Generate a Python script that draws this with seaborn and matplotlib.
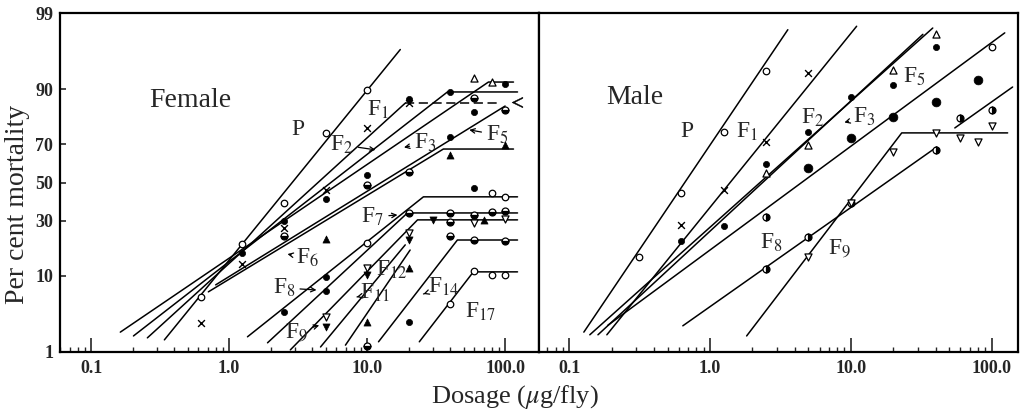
import numpy as np
import matplotlib
matplotlib.use("Agg")
import matplotlib.pyplot as plt
import seaborn as sns
from statistics import NormalDist
from matplotlib.ticker import LogLocator, NullFormatter, NullLocator

# ---- values: dosage (ug/fly) vs per cent mortality ----
x_ticks = [0.1, 1.0, 10.0, 100.0]
x_tick_labels = ["0.1", "1.0", "10.0", "100.0"]
y_ticks = [1, 10, 30, 50, 70, 90, 99]
y_tick_labels = ["1", "10", "30", "50", "70", "90", "99"]

# fitted regression lines (some end in a plateau), female
female_line_dose = {
    "P": [0.34, 17.4],
    "F1": [0.256, 18.9],
    "F1_plateau": [18.9, 89],
    "F2": [0.203, 38.2, 123],
    "F3": [0.163, 75.7, 115],
    "F5": [0.80, 100],
    "F6": [0.708, 35.7, 115],
    "F7": [1.90, 19.6, 123],
    "F8": [1.36, 25.6, 123],
    "F9": [2.78, 23.2, 123],
    "F11": [4.6, 18.9],
    "F12": [6.97, 20.5],
    "F14": [12.1, 45.1, 123],
    "F17": [23.9, 58.9, 123],
}
female_line_pct = {
    "P": [1.54, 96.6],
    "F1": [1.65, 86.2],
    "F1_plateau": [86.2, 86.2],
    "F2": [1.76, 89.3, 89.3],
    "F3": [2.0, 91.6, 91.6],
    "F5": [8.0, 85.3],
    "F6": [6.67, 67.7, 67.7],
    "F7": [1.39, 33.8, 33.8],
    "F8": [1.71, 42.2, 42.2],
    "F9": [1.08, 30.4, 30.4],
    "F11": [1.2, 19.6],
    "F12": [1.28, 17.7],
    "F14": [1.44, 21.5, 21.5],
    "F17": [1.44, 11.0, 11.0],
}

# observed points, female (grouped by symbol)
female_pt_dose = {
    "open_o": [0.625, 1.25, 2.5, 5, 10, 10, 80, 100, 40, 60, 80, 100],
    "x": [0.625, 1.25, 2.5, 5, 10, 20],
    "dot": [1.25, 2.5, 5, 10, 40, 100, 20, 40, 60, 2.5, 5, 60, 5, 20],
    "half": [60, 10, 20, 2.5, 100, 20, 40, 60, 80, 100, 40, 40, 60, 100, 10],
    "open_up": [60, 80],
    "tri_up": [5, 40, 100, 70, 10, 20],
    "open_down": [5, 10, 60, 100, 20],
    "tri_down": [5, 30, 20, 10],
    "chevron": [122],
}
female_pt_pct = {
    "open_o": [5.8, 20.0, 39.0, 75.2, 89.8, 20.4, 44.3, 42.2, 4.8, 11.3, 10.2, 10.2],
    "x": [2.7, 13.2, 26.7, 45.9, 77.3, 86.2],
    "dot": [16.7, 29.9, 41.1, 54.1, 89.3, 91.2, 87.4, 73.4, 83.3, 3.8, 9.8, 47.0, 6.85, 2.8],
    "half": [87.7, 48.7, 55.8, 23.2, 84.0, 33.8, 33.8, 32.8, 34.3, 34.8, 29.4, 23.2, 21.5, 21.1, 1.25],
    "open_up": [92.4, 91.6],
    "tri_up": [21.9, 64.7, 69.7, 30.4, 2.8, 12.1],
    "open_down": [3.2, 12.1, 28.9, 30.9, 24.4],
    "tri_down": [2.4, 30.4, 21.5, 10.2],
    "chevron": [86.5],
}

# fitted lines, male
male_line_dose = {
    "P": [0.127, 3.57],
    "F1": [0.185, 11.0],
    "F2": [0.140, 38.2],
    "F5": [0.160, 32.5],
    "F3": [0.188, 124],
    "F8": [0.641, 40.8],
    "F8_upper": [54.8, 141],
    "F9": [1.82, 23.0, 130],
}
male_line_pct = {
    "P": [2.0, 98.2],
    "F1": [1.83, 98.4],
    "F2": [1.83, 98.3],
    "F5": [1.83, 97.9],
    "F3": [2.5, 98.0],
    "F8": [2.46, 68.7],
    "F8_upper": [77.3, 90.5],
    "F9": [1.76, 75.2, 75.2],
}

# observed points, male
male_pt_dose = {
    "open_o": [0.3125, 0.625, 1.25, 2.5, 100],
    "x": [0.625, 1.25, 2.5, 5],
    "open_up": [2.5, 5, 20, 40],
    "dot": [0.625, 1.25, 2.5, 5, 10, 20, 40],
    "big_dot": [5, 10, 20, 40, 80],
    "half": [2.5, 5, 10, 40, 60, 100, 2.5],
    "open_down": [5, 10, 20, 40, 60, 80, 100],
}
male_pt_pct = {
    "open_o": [15.4, 44.3, 75.6, 93.7, 96.9],
    "x": [28.0, 45.9, 71.1, 93.4],
    "open_up": [55.2, 69.7, 93.9, 97.9],
    "dot": [21.1, 27.6, 60.1, 75.6, 88.0, 90.9, 96.9],
    "big_dot": [57.9, 72.9, 81.6, 86.5, 92.0],
    "half": [11.8, 22.8, 39.0, 67.3, 81.2, 84.0, 31.8],
    "open_down": [15.4, 39.0, 66.2, 75.2, 72.9, 71.1, 78.1],
}

# generation labels: (text, dose, pct, arrow target or None)
female_labels = [
    ("P", 3.13, 76.5, None),
    ("F$_1$", 12.1, 84.0, None),
    ("F$_2$", 6.6, 69.7, (11.5, 67.3)),
    ("F$_3$", 26.5, 70.6, (18.5, 68.5)),
    ("F$_5$", 88, 74.3, (55, 76.5)),
    ("F$_6$", 3.7, 15.0, (2.65, 16.3)),
    ("F$_7$", 11.0, 31.8, (16.6, 32.8)),
    ("F$_8$", 2.5, 7.4, (4.3, 7.0)),
    ("F$_9$", 3.1, 2.0, (4.5, 2.5)),
    ("F$_{11}$", 11.5, 6.5, (8.4, 5.8)),
    ("F$_{12}$", 15.0, 11.5, None),
    ("F$_{14}$", 36.0, 7.6, (25.6, 6.3)),
    ("F$_{17}$", 66.0, 3.8, None),
]
male_labels = [
    ("P", 0.685, 75.6, None),
    ("F$_1$", 1.83, 75.6, None),
    ("F$_2$", 5.38, 81.2, None),
    ("F$_3$", 12.5, 81.6, (9.0, 79.5)),
    ("F$_5$", 28.5, 92.6, None),
    ("F$_8$", 2.75, 20.4, None),
    ("F$_9$", 8.36, 18.5, None),
]

# ---- probit (normal probability) scale for the y axis ----
_nd = NormalDist()
_ppf = np.vectorize(_nd.inv_cdf, otypes=[float])
_cdf = np.vectorize(_nd.cdf, otypes=[float])


def probit(p):
    p = np.clip(np.asarray(p, dtype=float) / 100.0, 1e-9, 1 - 1e-9)
    return _ppf(p)


def unprobit(z):
    return 100.0 * _cdf(np.asarray(z, dtype=float))


MARKERS = {
    "open_o": dict(marker="o", s=22, color="black", facecolor="white", edgecolor="black", linewidth=0.9),
    "x": dict(marker="x", s=24, color="black", edgecolor="black", linewidth=1.0),
    "dot": dict(marker="o", s=20, color="black", edgecolor="black", linewidth=0.5),
    "big_dot": dict(marker="o", s=40, color="black", edgecolor="black", linewidth=0.5),
    "open_up": dict(marker="^", s=26, color="black", facecolor="white", edgecolor="black", linewidth=0.9),
    "tri_up": dict(marker="^", s=26, color="black", edgecolor="black", linewidth=0.5),
    "open_down": dict(marker="v", s=26, color="black", facecolor="white", edgecolor="black", linewidth=0.9),
    "tri_down": dict(marker="v", s=26, color="black", edgecolor="black", linewidth=0.5),
    "chevron": dict(marker="$<$", s=60, color="black", edgecolor="black", linewidth=0.3),
}

sns.set_style("ticks")
plt.rcParams["font.family"] = ["Liberation Serif", "DejaVu Serif"]
plt.rcParams["mathtext.fontset"] = "stix"


def draw_panel(ax, line_dose, line_pct, pt_dose, pt_pct, half_fill):
    for key in line_dose:
        ls = (0, (6, 3)) if key.endswith("plateau") else "-"
        sns.lineplot(x=line_dose[key], y=line_pct[key], ax=ax, color="black",
                     linewidth=1.1, linestyle=ls, estimator=None, sort=False, legend=False)
    for key, doses in pt_dose.items():
        if key == "half":
            sns.lineplot(x=doses, y=pt_pct[key], ax=ax, color="black", estimator=None,
                         sort=False, legend=False, linestyle="none", marker="o",
                         markersize=5, fillstyle=half_fill, markerfacecolor="black",
                         markerfacecoloralt="white", markeredgecolor="black",
                         markeredgewidth=0.9, zorder=3)
        else:
            sns.scatterplot(x=doses, y=pt_pct[key], ax=ax, legend=False, zorder=3,
                            **MARKERS[key])


def add_labels(ax, labels):
    for text, d, p, target in labels:
        if target is None:
            ax.text(d, p, text, fontsize=17, ha="center", va="center")
        else:
            ax.annotate(text, xy=target, xytext=(d, p), fontsize=17, ha="center",
                        va="center",
                        arrowprops=dict(arrowstyle="->", lw=0.9, color="black",
                                        shrinkA=1, shrinkB=0, mutation_scale=8))


fig = plt.figure(figsize=(10.21, 4.09), dpi=100)
ax1 = fig.add_axes([60 / 1021, 57 / 409, 479 / 1021, 339 / 409])
ax2 = fig.add_axes([539 / 1021, 57 / 409, 479 / 1021, 339 / 409])

draw_panel(ax1, female_line_dose, female_line_pct, female_pt_dose, female_pt_pct, "bottom")
draw_panel(ax2, male_line_dose, male_line_pct, male_pt_dose, male_pt_pct, "right")

for ax, xlim in ((ax1, (0.0596, 176)), (ax2, (0.061, 154))):
    ax.set_xscale("log")
    ax.set_yscale("function", functions=(probit, unprobit))
    ax.set_xlim(*xlim)
    ax.set_ylim(1, 99)
    ax.set_xticks(x_ticks, labels=x_tick_labels, fontweight="bold", fontsize=13)
    ax.xaxis.set_minor_locator(LogLocator(base=10, subs=np.arange(2, 10)))
    ax.xaxis.set_minor_formatter(NullFormatter())
    ax.yaxis.set_minor_locator(NullLocator())
    ax.tick_params(axis="x", which="major", direction="in", length=10, width=1.2, pad=6)
    ax.tick_params(axis="x", which="minor", direction="in", length=3.5, width=1.0)
    ax.set_xlabel("")
    ax.set_ylabel("")
    for side in ("left", "right", "top", "bottom"):
        ax.spines[side].set_visible(True)
        ax.spines[side].set_linewidth(1.6)
        ax.spines[side].set_color("black")

ax1.set_yticks(y_ticks, labels=y_tick_labels, fontweight="bold", fontsize=13)
ax1.tick_params(axis="y", direction="in", length=4, width=1.2, pad=5)
ax2.set_yticks([])
ax2.tick_params(axis="y", left=False, labelleft=False)

add_labels(ax1, female_labels)
add_labels(ax2, male_labels)
ax1.text(0.525, 87.1, "Female", fontsize=20, ha="center", va="center")
ax2.text(0.294, 87.7, "Male", fontsize=20, ha="center", va="center")

fig.text(515 / 1021, 1 - 397 / 409, "Dosage ($\\mu$g/fly)", fontsize=19,
         ha="center", va="center")
fig.text(18 / 1021, 0.5, "Per cent mortality", fontsize=20, rotation=90,
         ha="center", va="center")

fig.savefig("out.png", dpi=100)
